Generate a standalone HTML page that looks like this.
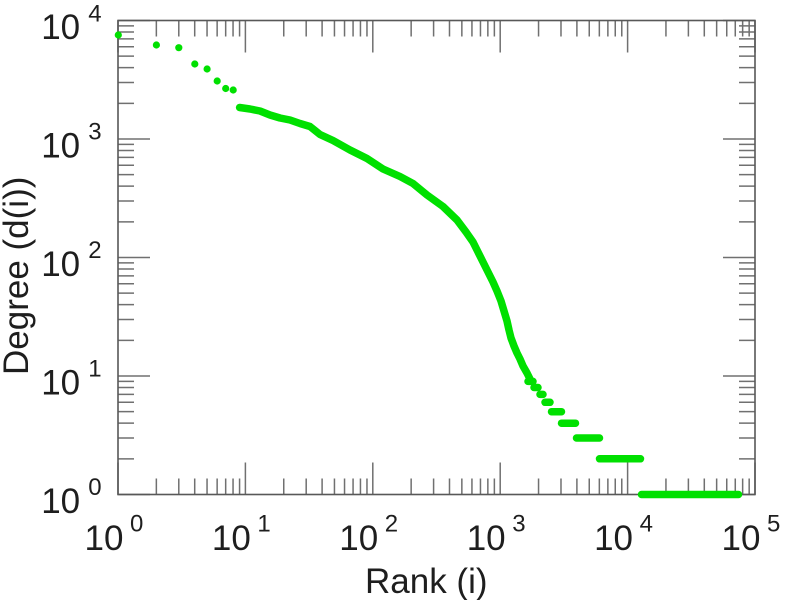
<!DOCTYPE html>
<html><head><meta charset="utf-8"><style>
html,body{margin:0;padding:0;background:#fff;}
svg{display:block;}
text{font-family:"Liberation Sans",Arial,sans-serif;fill:#1e1e1e;}
</style></head><body>
<svg width="785" height="600" viewBox="0 0 785 600" xmlns="http://www.w3.org/2000/svg">
<defs>
<path id="xm" d="M38.35 0v-16M60.79 0v-16M76.70 0v-16M89.05 0v-16M99.14 0v-16M107.67 0v-16M115.05 0v-16M121.57 0v-16" stroke="#707070" stroke-width="1.5" fill="none"/>
<path id="ym" d="M0 -35.67h16M0 -56.54h16M0 -71.34h16M0 -82.83h16M0 -92.21h16M0 -100.14h16M0 -107.02h16M0 -113.08h16" stroke="#707070" stroke-width="1.5" fill="none"/>
</defs>
<rect x="0" y="0" width="785" height="600" fill="#fff"/>
<!-- minor ticks -->
<use href="#xm" transform="translate(118,494.5)"/>
<use href="#xm" transform="translate(245.4,494.5)"/>
<use href="#xm" transform="translate(372.8,494.5)"/>
<use href="#xm" transform="translate(500.2,494.5)"/>
<use href="#xm" transform="translate(627.6,494.5)"/>
<use href="#xm" transform="translate(118,20.5) scale(1,-1)"/>
<use href="#xm" transform="translate(245.4,20.5) scale(1,-1)"/>
<use href="#xm" transform="translate(372.8,20.5) scale(1,-1)"/>
<use href="#xm" transform="translate(500.2,20.5) scale(1,-1)"/>
<use href="#xm" transform="translate(627.6,20.5) scale(1,-1)"/>
<use href="#ym" transform="translate(118,494.5)"/>
<use href="#ym" transform="translate(118,376)"/>
<use href="#ym" transform="translate(118,257.5)"/>
<use href="#ym" transform="translate(118,139)"/>
<use href="#ym" transform="translate(755,494.5) scale(-1,1)"/>
<use href="#ym" transform="translate(755,376) scale(-1,1)"/>
<use href="#ym" transform="translate(755,257.5) scale(-1,1)"/>
<use href="#ym" transform="translate(755,139) scale(-1,1)"/>
<!-- major ticks -->
<path d="M245.4 494.5v-32M372.8 494.5v-32M500.2 494.5v-32M627.6 494.5v-32M245.4 20.5v32M372.8 20.5v32M500.2 20.5v32M627.6 20.5v32M118 376h32M118 257.5h32M118 139h32M755 376h-32M755 257.5h-32M755 139h-32M118 494.5h32M118 20.5h32M755 494.5h-32M755 20.5h-32M118 494.5v-32M755 494.5v-32M118 20.5v32M755 20.5v32" stroke="#707070" stroke-width="1.5" fill="none"/>
<!-- border -->
<rect x="118" y="20.5" width="637" height="474" fill="none" stroke="#585858" stroke-width="1.6"/>

<!-- data -->
<g fill="#00e000">
<circle cx="118.3" cy="35" r="3.6"/>
<circle cx="156.4" cy="45" r="3.6"/>
<circle cx="178.8" cy="47.7" r="3.6"/>
<circle cx="194.8" cy="64" r="3.6"/>
<circle cx="207.1" cy="69" r="3.6"/>
<circle cx="217.2" cy="81" r="3.6"/>
<circle cx="225.7" cy="88.5" r="3.6"/>
<circle cx="233.2" cy="90" r="3.6"/>
</g>
<g stroke="#00e000" stroke-width="7.5" stroke-linecap="round" stroke-linejoin="round" fill="none">
<polyline points="239.6,107.5 250,109 260,111 270,115 280,118 290,120 300,123.5 310,126.5 320,134.5 333,140.5 350,150 367,158.5 383,169 400,176.5 413,183.5 427,195 443,206.5 457,220 466,232 473,242 478,252 483,262 488,272 493,282 497,291 501,301 504,311 507,321 509,330 511,338 514,346 517,353 520,359 523,366 527,373 530,379"/>
<path d="M528 381.4h5M534 387.5h4M540 394.4h3M545 402.3h5M551.5 411.7h10M561.5 423.2h14M576.5 438h23M599.5 458.8h41M641.5 494.5h97"/>
</g>

<!-- y tick labels -->
<g font-size="35">
<text x="41.2" y="513">10</text>
<text x="41.2" y="394.5">10</text>
<text x="41.2" y="276">10</text>
<text x="41.2" y="157.5">10</text>
<text x="41.2" y="39">10</text>
</g>
<g font-size="24">
<text x="88.3" y="495">0</text>
<text x="88.3" y="376.5">1</text>
<text x="88.3" y="258">2</text>
<text x="88.3" y="139.5">3</text>
<text x="88.3" y="21.5">4</text>
</g>
<!-- x tick labels -->
<g font-size="35">
<text x="84.5" y="550">10</text>
<text x="211.9" y="550">10</text>
<text x="339.3" y="550">10</text>
<text x="466.7" y="550">10</text>
<text x="594.1" y="550">10</text>
<text x="721.5" y="550">10</text>
</g>
<g font-size="24">
<text x="130" y="531.5">0</text>
<text x="257.4" y="531.5">1</text>
<text x="384.8" y="531.5">2</text>
<text x="512.2" y="531.5">3</text>
<text x="639.6" y="531.5">4</text>
<text x="767" y="531.5">5</text>
</g>
<!-- axis titles -->
<text x="365" y="593" font-size="35">Rank (i)</text>
<text x="0" y="0" font-size="35" transform="translate(28,375) rotate(-90)">Degree (d(i))</text>
</svg>
</body></html>
